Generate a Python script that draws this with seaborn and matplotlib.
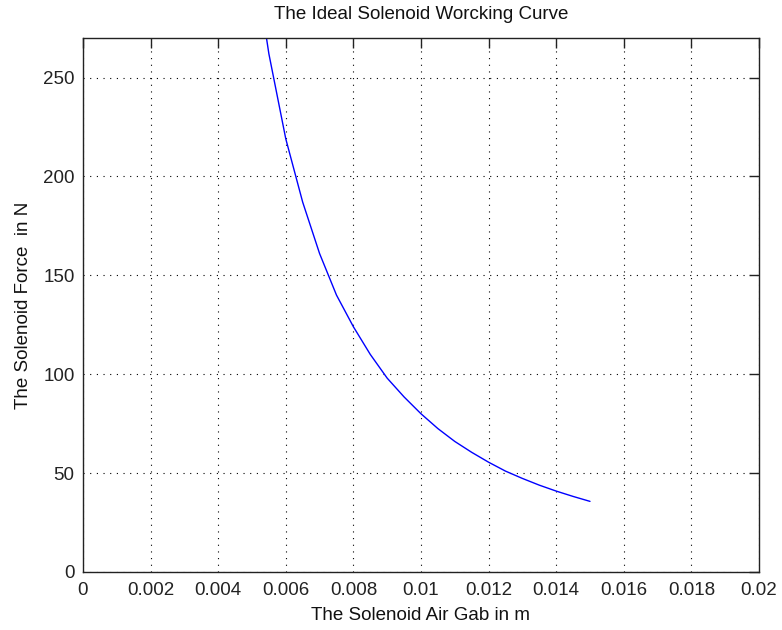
import matplotlib
matplotlib.use('Agg')
import matplotlib.pyplot as plt
import seaborn as sns
import pandas as pd

# values
air_gap = [0.0050, 0.0055, 0.0060, 0.0065, 0.0070, 0.0075, 0.0080, 0.0085,
           0.0090, 0.0095, 0.0100, 0.0105, 0.0110, 0.0115, 0.0120, 0.0125,
           0.0130, 0.0135, 0.0140, 0.0145, 0.0150]
force = [318, 262, 219, 187, 161, 140, 124, 110,
         98, 88.5, 80, 72.5, 66, 60.5, 55.5, 51,
         47.3, 43.9, 40.9, 38.2, 35.7]
x_ticks = [0, 0.002, 0.004, 0.006, 0.008, 0.01, 0.012, 0.014, 0.016, 0.018, 0.02]
x_tick_labels = ['0', '0.002', '0.004', '0.006', '0.008', '0.01',
                 '0.012', '0.014', '0.016', '0.018', '0.02']
y_ticks = [0, 50, 100, 150, 200, 250]

sns.set_style('white')
plt.rcParams['font.family'] = ['Liberation Sans', 'DejaVu Sans']

df = pd.DataFrame({'gap': air_gap, 'force': force})

fig = plt.figure(figsize=(7.82, 6.3), dpi=100)
ax = fig.add_axes([0.1061, 0.0921, 0.8645, 0.8476])

sns.lineplot(data=df, x='gap', y='force', ax=ax, color='#0000ff', linewidth=1.0)

ax.set_xlim(0, 0.02)
ax.set_ylim(0, 270)
ax.set_xticks(x_ticks)
ax.set_xticklabels(x_tick_labels)
ax.set_yticks(y_ticks)
ax.tick_params(direction='in', length=7, width=1, top=True, right=True,
               labelsize=13.5, colors='#222222')
ax.tick_params(axis='x', pad=7)
ax.tick_params(axis='y', pad=6)
ax.grid(True, linestyle=(0, (1, 5)), color='black', linewidth=0.8)
for sp in ax.spines.values():
    sp.set_color('#222222')
    sp.set_linewidth(1)

fs = 13.5
ax.set_title('The Ideal Solenoid Worcking Curve', fontsize=fs, pad=14, color='#111111')
ax.set_xlabel('The Solenoid Air Gab in m', fontsize=fs, labelpad=6, color='#111111')
ax.set_ylabel('The Solenoid Force  in N', fontsize=fs, labelpad=8, color='#111111')

plt.savefig('out.png', dpi=100)
plt.close()
